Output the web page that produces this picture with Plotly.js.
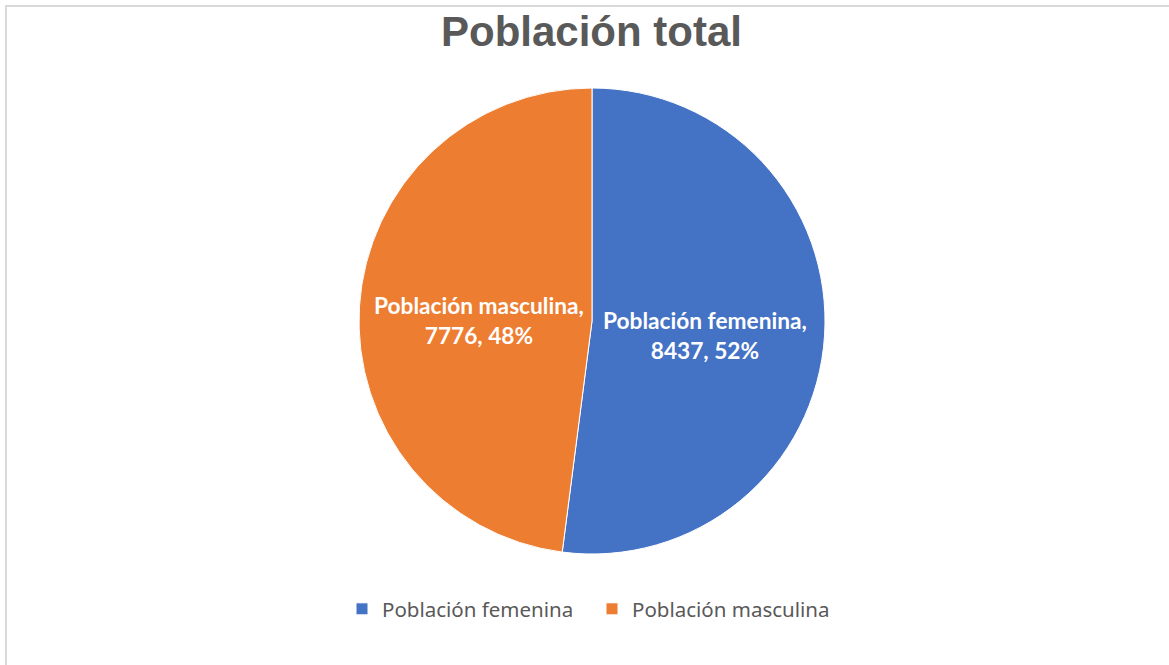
<!DOCTYPE html>
<html>
<head>
<meta charset="utf-8">
<script src="https://cdn.plot.ly/plotly-3.0.1.min.js"></script>
<style>
  html, body { margin: 0; padding: 0; background: #fff; }
  #wrap { position: relative; width: 1169px; height: 665px; overflow: hidden; }
  #chart { position: absolute; left: 0; top: 0; width: 1169px; height: 665px; }
  #frame { position: absolute; left: 5px; top: 5px; width: 1200px; height: 700px;
           border-left: 2px solid #d9d9d9; border-top: 2px solid #d9d9d9; pointer-events: none; }
</style>
</head>
<body>
<div id="wrap">
  <div id="chart"></div>
  <div id="frame"></div>
</div>
<script>
const categories = ["Población femenina", "Población masculina"];
const values = [8437, 7776];
const colors = ["#4472C4", "#ED7D31"];
const chartTitle = "Población total";

const W = 1169, H = 665;
const cx = 592, cy = 321, r = 233;
const labelDist = 0.487;   // fraction of radius where data labels sit
const labelDy = 7;         // small downward nudge, px

const total = values.reduce((a, b) => a + b, 0);

// data labels as annotations, placed along each slice's mid-angle (clockwise from 12 o'clock)
const annotations = [];
let cum = 0;
values.forEach((v, i) => {
  const mid = (cum + v / 2) / total * 2 * Math.PI;
  cum += v;
  const px = cx + Math.sin(mid) * r * labelDist;
  const py = cy - Math.cos(mid) * r * labelDist + labelDy;
  const pct = Math.round(v / total * 100);
  annotations.push({
    xref: "paper", yref: "paper",
    x: px / W, y: 1 - py / H,
    xanchor: "center", yanchor: "middle",
    showarrow: false,
    text: "<b>" + categories[i] + ",<br>" + v + ", " + pct + "%</b>",
    font: { family: "Lato, 'Open Sans', sans-serif", size: 22.7, color: "#ffffff" },
    align: "center"
  });
});

const trace = {
  type: "pie",
  labels: categories,
  values: values,
  sort: false,
  direction: "clockwise",
  rotation: 0,
  marker: { colors: colors, line: { color: "#ffffff", width: 1 } },
  textinfo: "none",
  hoverinfo: "label+value+percent",
  domain: { x: [(cx - r) / W, (cx + r) / W], y: [1 - (cy + r) / H, 1 - (cy - r) / H] }
};

const layout = {
  width: W, height: H,
  margin: { l: 0, r: 0, t: 0, b: 0 },
  paper_bgcolor: "#ffffff",
  title: {
    text: "<b>" + chartTitle + "</b>",
    font: { family: "'Liberation Sans', Arial, sans-serif", size: 42, color: "#595959" },
    x: 591.5 / W, xanchor: "center",
    y: 1 - 31 / H, yanchor: "middle"
  },
  annotations: annotations,
  showlegend: true,
  legend: {
    orientation: "h",
    x: 592 / W, xanchor: "center",
    y: 1 - 609 / H, yanchor: "middle",
    font: { family: "'Noto Sans', 'Open Sans', sans-serif", size: 20.5, color: "#595959" },
    itemwidth: 30,
    entrywidth: 205,
    entrywidthmode: "pixels",
    traceorder: "normal"
  }
};

Plotly.newPlot("chart", [trace], layout, { displayModeBar: false, staticPlot: true });
</script>
</body>
</html>
